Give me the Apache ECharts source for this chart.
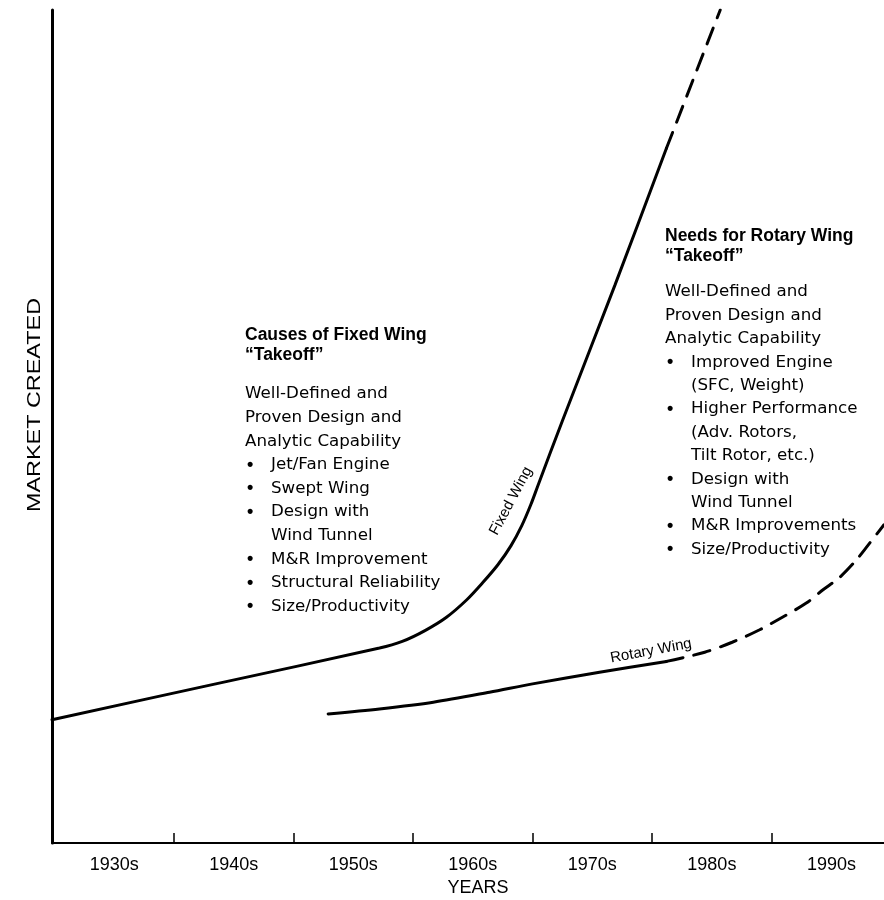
<!DOCTYPE html>
<html>
<head>
<meta charset="utf-8">
<script src="https://cdn.jsdelivr.net/npm/echarts@6/dist/echarts.min.js"></script>
<style>html,body{margin:0;padding:0;background:#fff}#chart{width:884px;height:900px}</style>
</head>
<body>
<div id="chart"></div>
<script>
// ---- data (years on x, relative market created on y) ----
const tickYears = [1935, 1945, 1955, 1965, 1975, 1985];
const decadeLabelYears = [1930, 1940, 1950, 1960, 1970, 1980, 1990];
const decadeLabels = ['1930s', '1940s', '1950s', '1960s', '1970s', '1980s', '1990s'];

const fixedWingYears  = [1924.8, 1938.5, 1952.2, 1954.1, 1956.0, 1957.8, 1959.5, 1960.8, 1962.1, 1963.2, 1964.1, 1964.85, 1965.5, 1967.5, 1971.9, 1976.2];
const fixedWingValues = [14.8, 19.1, 23.4, 24.2, 25.5, 27.1, 29.2, 31.2, 33.4, 35.7, 38.1, 40.6, 43.1, 50.7, 67.0, 83.4];
const fixedWingProjYears  = [1976.2, 1980.7];
const fixedWingProjValues = [83.4, 100];

const rotaryWingYears  = [1947.9, 1952.2, 1956.7, 1961.4, 1965.0, 1970.6, 1976.2];
const rotaryWingValues = [15.5, 16.1, 16.9, 18.1, 19.1, 20.5, 21.8];
const rotaryWingProjYears  = [1976.2, 1979.4, 1981.7, 1984.0, 1985.9, 1987.9, 1989.3, 1990.7, 1992.1, 1993.2, 1994.4];
const rotaryWingProjValues = [21.8, 22.9, 24.1, 25.6, 27.1, 28.8, 30.4, 31.9, 34.0, 36.0, 38.2];

// ---- annotation text ----
const leftHeading = ['Causes of Fixed Wing', '\u201CTakeoff\u201D'];
const leftBody = [
  ['', 'Well-Defined and'], ['', 'Proven Design and'], ['', 'Analytic Capability'],
  ['\u2022', 'Jet/Fan Engine'], ['\u2022', 'Swept Wing'], ['\u2022', 'Design with'], ['-', 'Wind Tunnel'],
  ['\u2022', 'M&R Improvement'], ['\u2022', 'Structural Reliability'], ['\u2022', 'Size/Productivity']
];
const rightHeading = ['Needs for Rotary Wing', '\u201CTakeoff\u201D'];
const rightBody = [
  ['', 'Well-Defined and'], ['', 'Proven Design and'], ['', 'Analytic Capability'],
  ['\u2022', 'Improved Engine'], ['-', '(SFC, Weight)'],
  ['\u2022', 'Higher Performance'], ['-', '(Adv. Rotors,'], ['-', 'Tilt Rotor, etc.)'],
  ['\u2022', 'Design with'], ['-', 'Wind Tunnel'],
  ['\u2022', 'M&R Improvements'], ['\u2022', 'Size/Productivity']
];

const zip = (xs, ys) => xs.map((x, i) => [x, ys[i]]);
const FONT = 'Liberation Sans, Arial, sans-serif';
const BODY_FONT = '16.7px "DejaVu Sans", sans-serif';
const INK = '#000';

function block(x, headTop, heading, bodyTop, body, step) {
  const els = [];
  heading.forEach((t, i) => els.push({
    type: 'text', x: x, y: headTop + i * 20,
    style: { text: t, font: 'bold 17.5px ' + FONT, fill: INK, textAlign: 'left', textVerticalAlign: 'middle' }
  }));
  body.forEach((row, i) => {
    const y = bodyTop + i * step;
    if (row[0] === '') {
      els.push({ type: 'text', x: x, y: y, style: { text: row[1], font: BODY_FONT, fill: INK, textAlign: 'left', textVerticalAlign: 'middle' } });
    } else {
      if (row[0] !== '-') {
        els.push({ type: 'text', x: x + 2, y: y, style: { text: row[0], font: 'bold 18px ' + FONT, fill: INK, textAlign: 'left', textVerticalAlign: 'middle' } });
      }
      els.push({ type: 'text', x: x + 26, y: y, style: { text: row[1], font: BODY_FONT, fill: INK, textAlign: 'left', textVerticalAlign: 'middle' } });
    }
  });
  return els;
}

const chart = echarts.init(document.getElementById('chart'), null, { renderer: 'canvas' });
const solid = { color: '#000', width: 3, cap: 'round' };
const dashed = { color: '#000', width: 3, type: [17, 11], cap: 'round' };

chart.setOption({
  animation: false,
  backgroundColor: '#fff',
  grid: { left: 52, right: 0, top: 10, bottom: 57, containLabel: false, outerBoundsMode: 'none' },
  xAxis: {
    type: 'value', min: 1924.8, max: 1994.4,
    axisLine: { show: true, onZero: false, lineStyle: { color: '#000', width: 2 } },
    axisTick: { show: true, inside: true, length: 10, customValues: tickYears, lineStyle: { color: '#000', width: 1.5 } },
    axisLabel: {
      show: true, customValues: decadeLabelYears, margin: 13,
      formatter: v => decadeLabels[decadeLabelYears.indexOf(v)] || '',
      color: INK, fontSize: 18, fontFamily: FONT
    },
    splitLine: { show: false },
    name: 'YEARS', nameLocation: 'middle', nameGap: 36,
    nameTextStyle: { color: INK, fontSize: 18, fontFamily: FONT, padding: [0, 0, 0, 20] }
  },
  yAxis: {
    type: 'value', min: 0, max: 100,
    axisLine: { show: true, lineStyle: { color: '#000', width: 3 } },
    axisTick: { show: false }, axisLabel: { show: false }, splitLine: { show: false }
  },
  series: [
    { name: 'Fixed Wing', type: 'line', data: zip(fixedWingYears, fixedWingValues), smooth: 0.3, showSymbol: false, lineStyle: solid },
    { name: 'Fixed Wing (projected)', type: 'line', data: zip(fixedWingProjYears, fixedWingProjValues), showSymbol: false, lineStyle: dashed },
    { name: 'Rotary Wing', type: 'line', data: zip(rotaryWingYears, rotaryWingValues), smooth: 0.3, showSymbol: false, lineStyle: solid },
    { name: 'Rotary Wing (projected)', type: 'line', data: zip(rotaryWingProjYears, rotaryWingProjValues), smooth: 0.3, showSymbol: false, lineStyle: dashed }
  ],
  graphic: [
    { type: 'text', x: 35, y: 405, rotation: Math.PI / 2, scaleX: 1.3,
      style: { text: 'MARKET CREATED', font: '18px ' + FONT, fill: INK, textAlign: 'center', textVerticalAlign: 'middle' } },
    { type: 'text', x: 511, y: 501, rotation: 62 * Math.PI / 180,
      style: { text: 'Fixed Wing', font: '15px ' + FONT, fill: INK, textAlign: 'center', textVerticalAlign: 'middle' } },
    { type: 'text', x: 651, y: 651, rotation: 10.5 * Math.PI / 180,
      style: { text: 'Rotary Wing', font: '15px ' + FONT, fill: INK, textAlign: 'center', textVerticalAlign: 'middle' } }
  ].concat(block(245, 335, leftHeading, 394, leftBody, 23.6))
   .concat(block(665, 236, rightHeading, 292, rightBody, 23.4))
});
</script>
</body>
</html>
